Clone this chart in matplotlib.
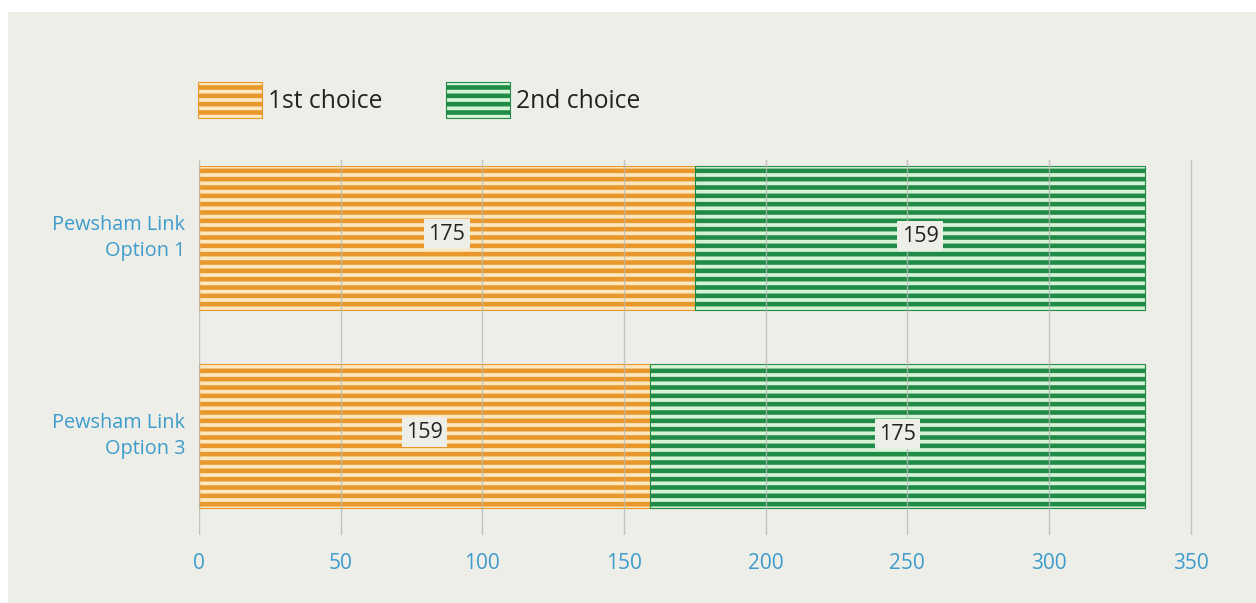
import matplotlib.pyplot as plt
from matplotlib.patches import Patch, Rectangle

# data
options = ['Pewsham Link\nOption 1', 'Pewsham Link\nOption 3']
first_choice = [175, 159]
second_choice = [159, 175]
series_names = ['1st choice', '2nd choice']
xticks = [0, 50, 100, 150, 200, 250, 300, 350]

orange, cream = '#e8972a', '#fde7bf'
green, mint = '#1f8b46', '#d6f3d6'
blue = '#3d9ccb'
panel = '#eeeee9'

plt.rcParams['font.family'] = ['Open Sans', 'DejaVu Sans']
plt.rcParams['hatch.linewidth'] = 3.3

fig = plt.figure(figsize=(12.56, 6.03), dpi=100)
fig.patch.set_facecolor('white')
fig.patches.append(Rectangle((8 / 1256, 0), 1 - 8 / 1256, 1 - 12 / 603,
                             transform=fig.transFigure, facecolor=panel,
                             edgecolor='none', zorder=-10))

ax = fig.add_axes([199 / 1256, 68 / 603, 1020 / 1256, 375 / 603])
ax.set_facecolor('none')

ypos = list(range(len(options)))
ax.barh(ypos, first_choice, height=0.727, color=cream, edgecolor=orange,
        hatch='--', linewidth=0.8, zorder=1)
ax.barh(ypos, second_choice, left=first_choice, height=0.727, color=mint,
        edgecolor=green, hatch='--', linewidth=0.8, zorder=1)

box = dict(boxstyle='square,pad=0.2', facecolor=panel, edgecolor='none')
for y, a, b in zip(ypos, first_choice, second_choice):
    ax.text(a / 2, y - 0.02, str(a), ha='center', va='center', fontsize=15.5,
            color='#222222', bbox=box, zorder=4)
    ax.text(a + b / 2, y - 0.01, str(b), ha='center', va='center', fontsize=15.5,
            color='#222222', bbox=box, zorder=4)

ax.set_xlim(0, 360)
ax.set_ylim(1.5, -0.394)
ax.set_xticks(xticks)
ax.set_yticks(ypos)
ax.set_yticklabels(options, linespacing=1.4)
ax.tick_params(axis='x', length=0, pad=13, labelsize=15, labelcolor=blue)
ax.tick_params(axis='y', length=0, pad=10, labelsize=14.3, labelcolor=blue)
for lab in ax.get_yticklabels():
    lab.set_horizontalalignment('right')
    lab.set_verticalalignment('center')
ax.xaxis.grid(True, color='#b8b8b4', linewidth=1, alpha=0.8, zorder=3)
ax.set_axisbelow(False)
for s in ax.spines.values():
    s.set_visible(False)

handles = [Patch(facecolor=cream, edgecolor=orange, hatch='--', linewidth=0.8),
           Patch(facecolor=mint, edgecolor=green, hatch='--', linewidth=0.8)]
fig.legend(handles, series_names, loc='upper left', ncol=2, frameon=False,
           bbox_to_anchor=(198 / 1256, 1 - 82 / 603), borderpad=0,
           borderaxespad=0, fontsize=17.7, handlelength=2.6, handleheight=1.87,
           handletextpad=0.25, columnspacing=2.6, labelcolor='#222222')

fig.savefig('out.png', dpi=100)
